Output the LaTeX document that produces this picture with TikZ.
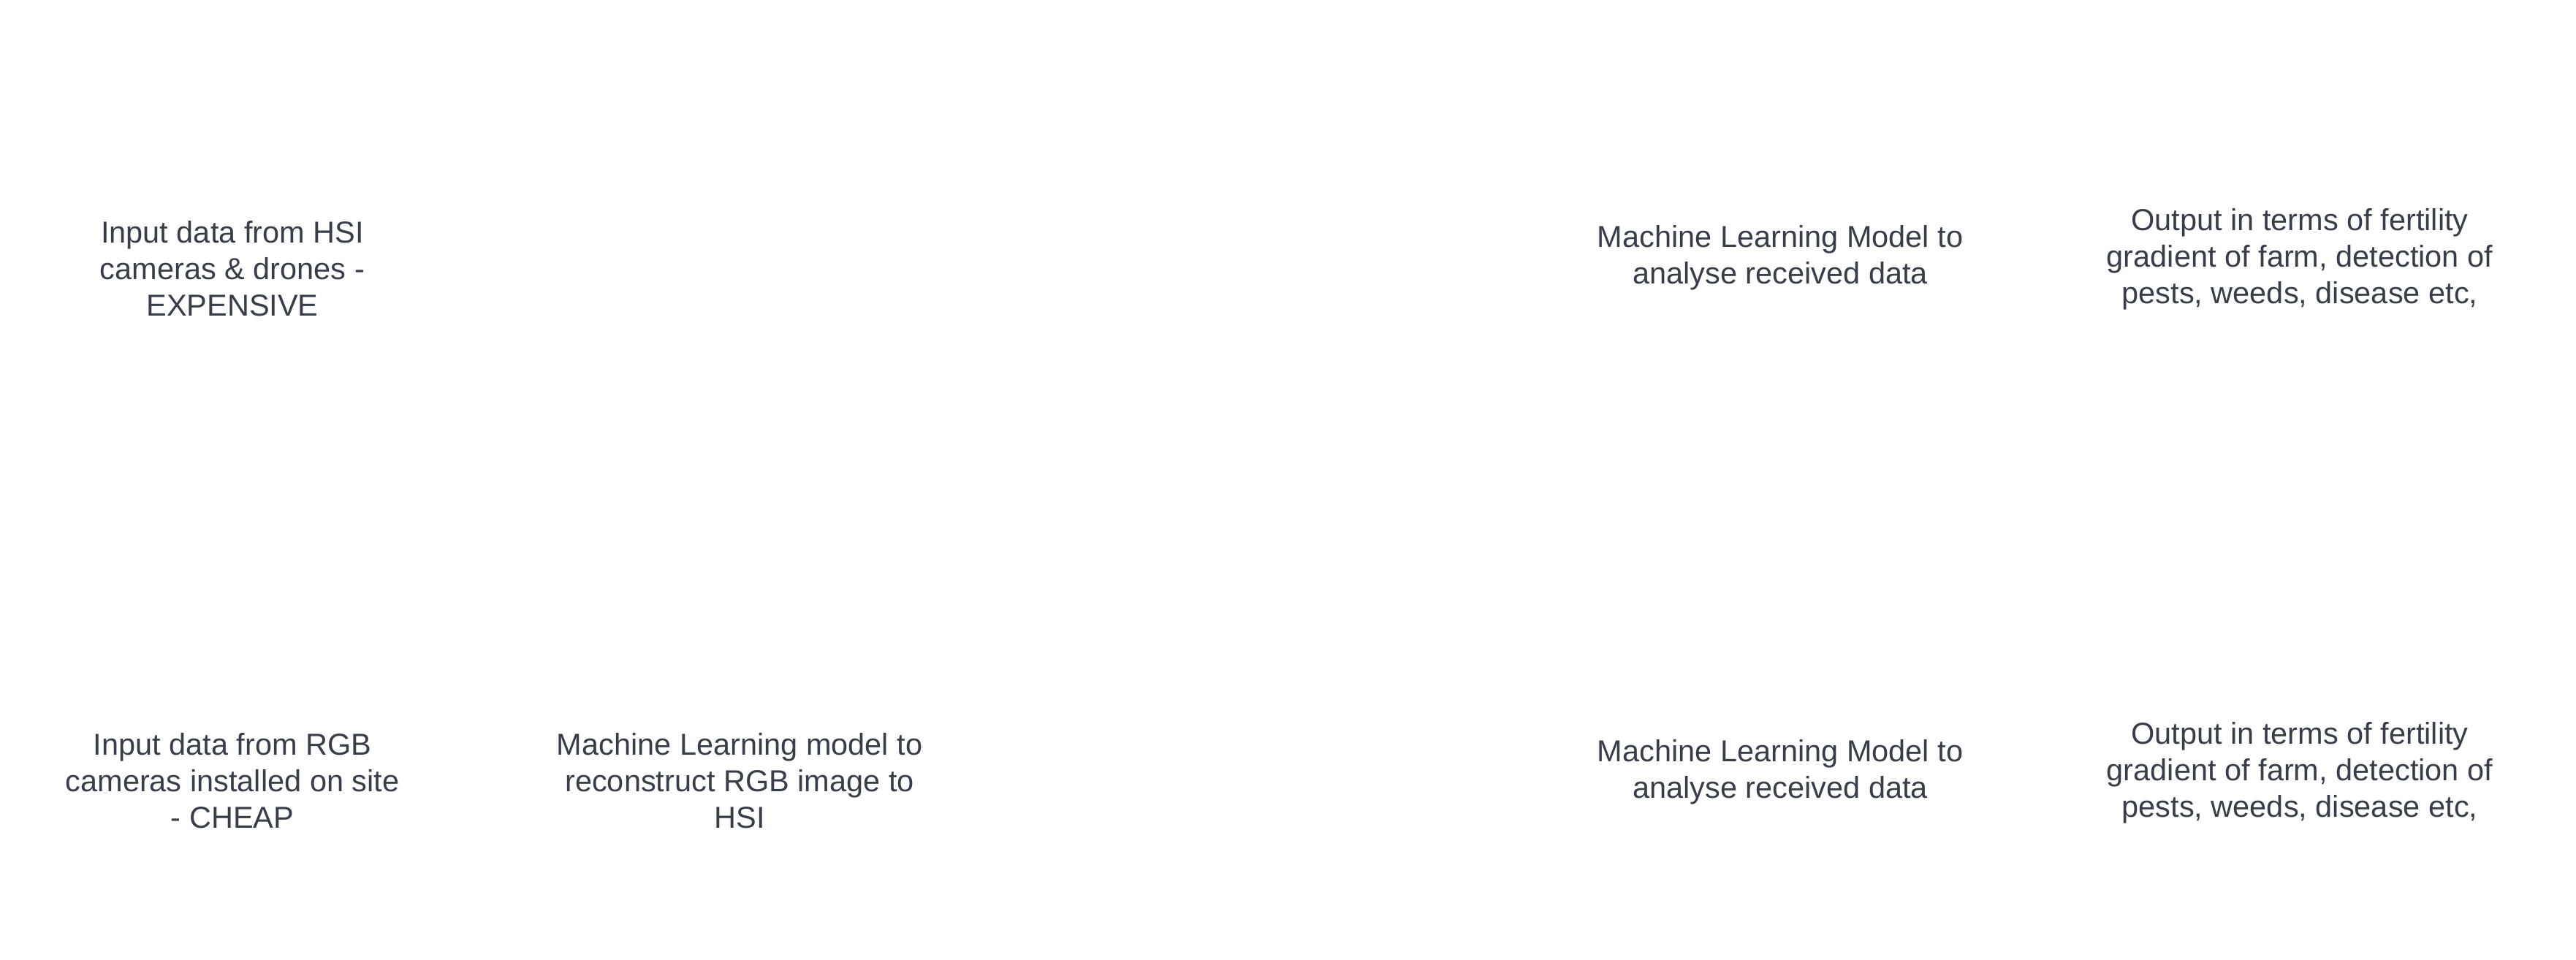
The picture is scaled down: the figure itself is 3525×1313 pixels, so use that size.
\documentclass[tikz,border=0pt]{standalone}
\usepackage{fontspec}
\setmainfont{Liberation Sans}
\definecolor{txt}{RGB}{55,62,74}
\begin{document}
\begin{tikzpicture}[x=0.5pt,y=-0.5pt,
  lbl/.style={align=center,inner sep=0pt,text=txt,font=\fontsize{20.75}{25}\selectfont}]
\useasboundingbox (0,0) rectangle (3525,1313);
\node[lbl] (hsi) at (318,372) {\strut Input data from HSI\\\strut cameras \& drones -\\\strut EXPENSIVE};
\node[lbl] (mltop) at (2436,353) {\strut Machine Learning Model to\\\strut analyse received data};
\node[lbl] (outtop) at (3147,355) {\strut Output in terms of fertility\\\strut gradient of farm, detection of\\\strut pests, weeds, disease etc,};
\node[lbl] (rgb) at (318,1073) {\strut Input data from RGB\\\strut cameras installed on site\\\strut - CHEAP};
\node[lbl] (recon) at (1012,1073) {\strut Machine Learning model to\\\strut reconstruct RGB image to\\\strut HSI};
\node[lbl] (mlbot) at (2436,1057) {\strut Machine Learning Model to\\\strut analyse received data};
\node[lbl] (outbot) at (3147,1058) {\strut Output in terms of fertility\\\strut gradient of farm, detection of\\\strut pests, weeds, disease etc,};
\end{tikzpicture}
\end{document}
